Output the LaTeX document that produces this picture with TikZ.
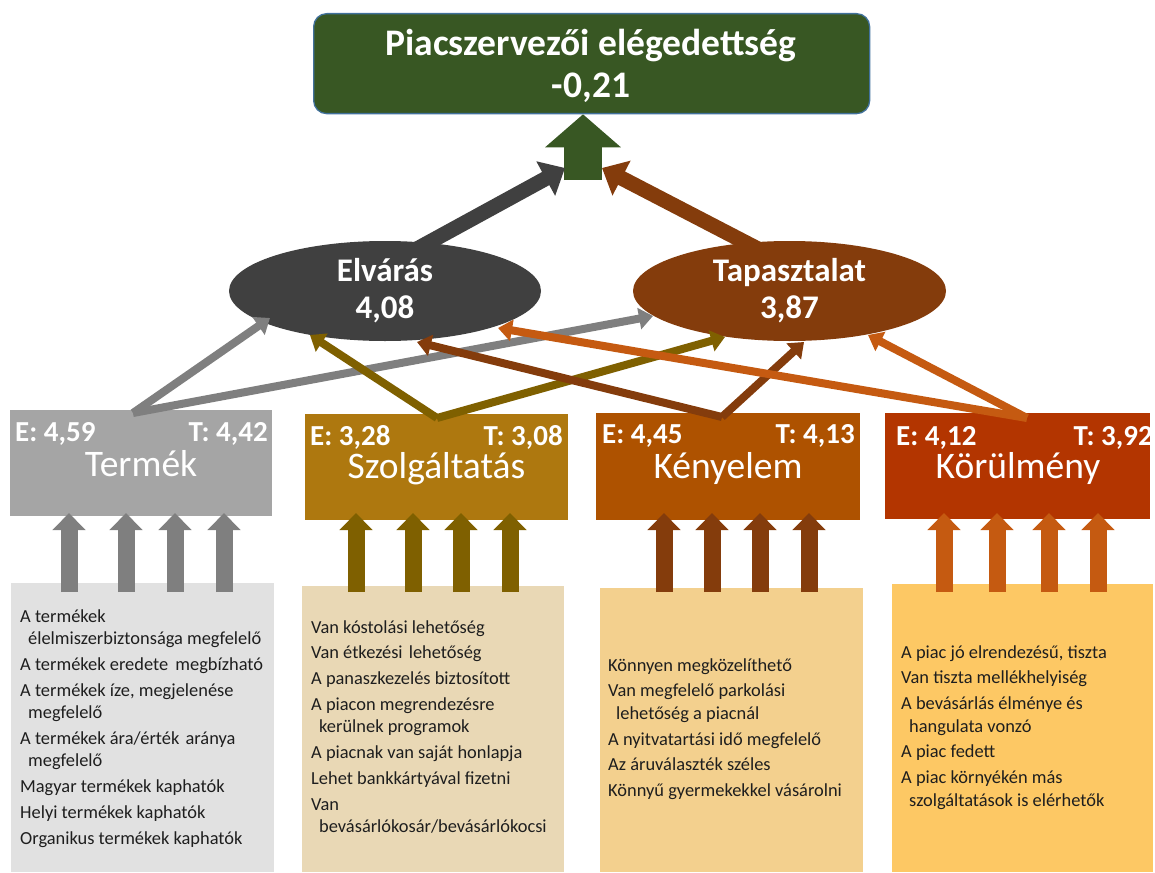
\documentclass[tikz,border=0pt]{standalone}
\usepackage{fontspec}
\setmainfont{Carlito}
\usetikzlibrary{arrows.meta,shapes.geometric,calc}

\definecolor{cTitle}{HTML}{385723}
\definecolor{cTitleBorder}{HTML}{41719C}
\definecolor{cElv}{HTML}{404040}
\definecolor{cTap}{HTML}{843C0C}
\definecolor{cGray}{HTML}{7F7F7F}
\definecolor{cOlive}{HTML}{7F6000}
\definecolor{cBrown}{HTML}{843C0C}
\definecolor{cOrange}{HTML}{C55A11}
\definecolor{bTerm}{HTML}{A5A5A5}
\definecolor{bSzolg}{HTML}{AE780F}
\definecolor{bKeny}{HTML}{AE5200}
\definecolor{bKor}{HTML}{B33500}
\definecolor{lTerm}{HTML}{E1E1E1}
\definecolor{lSzolg}{HTML}{E9D8B5}
\definecolor{lKeny}{HTML}{F3D08E}
\definecolor{lKor}{HTML}{FDC864}
\definecolor{txt}{HTML}{1E1E1E}

\newcommand{\Wl}[1]{\hbox{\hskip8pt #1}}
\newcommand{\Il}[1]{\vskip3.3pt\hbox{#1}}

\begin{document}
\begin{tikzpicture}[x=1pt,y=-1pt,
  catbox/.style={rectangle, inner sep=0, anchor=north west, draw=none},
  etxt/.style={font=\fontsize{29}{35}\selectfont\bfseries, text=white, inner sep=0},
  ntxt/.style={font=\fontsize{37.5}{45}\selectfont, text=white, inner sep=0, anchor=base},
  ovtxt/.style={font=\fontsize{33}{40}\selectfont\bfseries, text=white, inner sep=0, anchor=base},
  lsttxt/.style={font=\fontsize{18.4}{22.5}\selectfont, text=txt, inner sep=0, anchor=base west},
  ttltxt/.style={font=\fontsize{37.5}{45}\selectfont\bfseries, text=white, inner sep=0, anchor=base},
  conn/.style={line width=8pt, -{Triangle[width=21pt,length=14pt]}},
  bigconn/.style={line width=15pt, -{Triangle[width=38pt,length=22pt]}},
  smallarr/.style={line width=17pt, -{Triangle[width=32pt,length=17pt]}},
  uparrow/.style={line width=38pt, -{Triangle[width=74pt,length=33pt]}}
]
\useasboundingbox (0,0) rectangle (1155,872);

% list boxes
\node[catbox, fill=lTerm, minimum width=263pt, minimum height=289pt] (L1) at (11,583) {};
\node[catbox, fill=lSzolg, minimum width=262pt, minimum height=286pt] (L2) at (302,586) {};
\node[catbox, fill=lKeny, minimum width=263pt, minimum height=284pt] (L3) at (600,588) {};
\node[catbox, fill=lKor, minimum width=261pt, minimum height=288pt] (L4) at (892,584) {};

\node[lsttxt] (L1t) at (20,622) {\vtop{\baselineskip=22.5pt
  \hbox{A termékek}
  \Wl{élelmiszerbiztonsága megfelelő}
  \Il{A termékek eredete\hskip3pt\ megbízható}
  \Il{A termékek íze, megjelenése}
  \Wl{megfelelő}
  \Il{A termékek ára/érték\hskip2pt\ aránya}
  \Wl{megfelelő}
  \Il{Magyar termékek kaphatók}
  \Il{Helyi termékek kaphatók}
  \Il{Organikus termékek kaphatók}}};

\node[lsttxt] (L2t) at (311,633) {\vtop{\baselineskip=22.5pt
  \hbox{Van kóstolási lehetőség}
  \Il{Van étkezési\hskip2pt\ lehetőség}
  \Il{A panaszkezelés biztosított}
  \Il{A piacon megrendezésre}
  \Wl{kerülnek programok}
  \Il{A piacnak van saját honlapja}
  \Il{Lehet bankkártyával fizetni}
  \Il{Van}
  \Wl{bevásárlókosár/bevásárlókocsi}}};

\node[lsttxt] (L3t) at (608,671) {\vtop{\baselineskip=22.5pt
  \hbox{Könnyen megközelíthető}
  \Il{Van megfelelő parkolási}
  \Wl{lehetőség a piacnál}
  \Il{A nyitvatartási idő megfelelő}
  \Il{Az áruválaszték széles}
  \Il{Könnyű gyermekekkel vásárolni}}};

\node[lsttxt] (L4t) at (901,658) {\vtop{\baselineskip=22.5pt
  \hbox{A piac jó elrendezésű, tiszta}
  \Il{Van tiszta mellékhelyiség}
  \Il{A bevásárlás élménye és}
  \Wl{hangulata vonzó}
  \Il{A piac fedett}
  \Il{A piac környékén más}
  \Wl{szolgáltatások is elérhetők}}};

% category boxes
\node[catbox, fill=bTerm, minimum width=262pt, minimum height=106pt] (B1) at (10,410) {};
\node[catbox, fill=bSzolg, minimum width=263pt, minimum height=106pt] (B2) at (305,414) {};
\node[catbox, fill=bKeny, minimum width=264pt, minimum height=107pt] (B3) at (596,413) {};
\node[catbox, fill=bKor, minimum width=265pt, minimum height=106pt] (B4) at (885,413) {};

\node[etxt, anchor=base west] (B1e) at (15,441) {E: 4,59};
\node[etxt, anchor=base east] (B1t) at (268,441) {T: 4,42};
\node[ntxt] (B1n) at (141,476) {Termék};

\node[etxt, anchor=base west] (B2e) at (310,445) {E: 3,28};
\node[etxt, anchor=base east] (B2t) at (563,445) {T: 3,08};
\node[ntxt] (B2n) at (436.5,478) {Szolgáltatás};

\node[etxt, anchor=base west] (B3e) at (602,443) {E: 4,45};
\node[etxt, anchor=base east] (B3t) at (855,443) {T: 4,13};
\node[ntxt] (B3n) at (728,478) {Kényelem};

\node[etxt, anchor=base west] (B4e) at (896,445) {E: 4,12};
\node[etxt, anchor=base east] (B4t) at (1153,445) {T: 3,92};
\node[ntxt] (B4n) at (1018,478) {Körülmény};

% title box
\node[catbox, rounded corners=13pt, fill=cTitle, draw=cTitleBorder, line width=1.3pt,
      minimum width=556pt, minimum height=100pt] (top) at (313,13) {};
\node[ttltxt] (topA) at (591,56) {Piacszervezői elégedettség};
\node[ttltxt] (topB) at (591,98) {-0,21};

% ellipses
\node[ellipse, fill=cElv, minimum width=312pt, minimum height=100pt, inner sep=0] (elv) at (385,291) {};
\node[ellipse, fill=cTap, minimum width=313pt, minimum height=100pt, inner sep=0] (tap) at (789.5,291) {};
\node[ovtxt] (elvA) at (385,281) {Elvárás};
\node[ovtxt] (elvB) at (385,318) {4,08};
\node[ovtxt] (tapA) at (789.5,281) {Tapasztalat};
\node[ovtxt] (tapB) at (789.5,318) {3,87};

% green up arrow into title
\coordinate (gBase) at (583,180);
\draw[uparrow, cTitle] (gBase) -- (gBase |- top.south);

% thick connectors from ellipses
\coordinate (elvS) at (415,250);
\coordinate (elvE) at (565,168);
\coordinate (tapS) at (760,250);
\coordinate (tapE) at (602,168);
\draw[bigconn, cElv] (elvS) -- (elvE);
\draw[bigconn, cTap] (tapS) -- (tapE);

% thin connectors from category boxes
\coordinate (vTerm) at (133,413);
\coordinate (vSz) at (437,418);
\coordinate (vKe) at (722,417);
\coordinate (vKo) at (1027,418);
\coordinate (eTerm) at (270,318);
\coordinate (tTerm) at (653,316);
\coordinate (eSz) at (310,335);
\coordinate (tSz) at (725,337);
\coordinate (eKe) at (417,342);
\coordinate (tKe) at (804,342);
\coordinate (eKo) at (498,328);
\coordinate (tKo) at (868,335);

\draw[conn, cGray] (vTerm) -- (tTerm);
\draw[conn, cGray] (vTerm) -- (eTerm);
\draw[conn, cOlive] (vSz) -- (tSz);
\draw[conn, cOlive] (vSz) -- (eSz);
\draw[conn, cBrown] (vKe) -- (eKe);
\draw[conn, cBrown] (vKe) -- (tKe);
\draw[conn, cOrange] (vKo) -- (eKo);
\draw[conn, cOrange] (vKo) -- (tKo);

% small arrows from lists to category boxes
\foreach \x in {69,126,175,224} \draw[smallarr, cGray] (\x,592) -- (\x,513);
\foreach \x in {356,413,461,510} \draw[smallarr, cOlive] (\x,592) -- (\x,513);
\foreach \x in {664,712,760,809} \draw[smallarr, cBrown] (\x,592) -- (\x,513);
\foreach \x in {944,997,1049,1098} \draw[smallarr, cOrange] (\x,592) -- (\x,513);
\end{tikzpicture}
\end{document}
